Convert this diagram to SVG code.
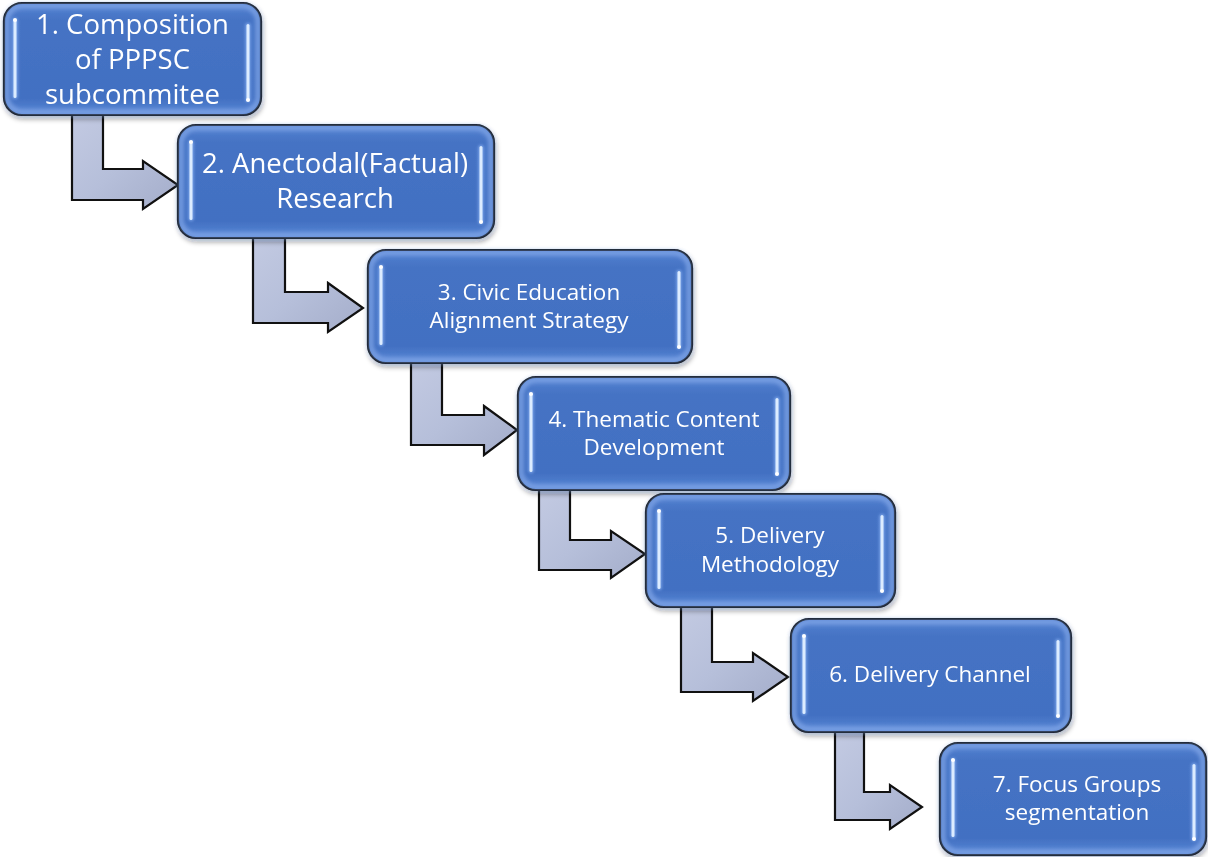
<svg xmlns="http://www.w3.org/2000/svg" width="1208" height="857" viewBox="0 0 1208 857">
<style>
.box{fill:url(#boxg);stroke:#000;stroke-width:2.2}
.glow{fill:none;stroke:#86aaea;stroke-width:5;opacity:0.8;filter:url(#blur2)}
.hlg{fill:#9cc2ff;opacity:0.7;filter:url(#hb)}
.hl{fill:#dcecff}
.dot{fill:#ffffff}
.arr{fill:url(#arrg);stroke:#111;stroke-width:2.2;stroke-linejoin:miter}
.t{fill:#fff;font-family:"Open Sans","Noto Sans",sans-serif;text-anchor:middle}
.big{font-size:27.5px}
.sm{font-size:22.5px}
</style>
<defs>
<linearGradient id="boxg" x1="0" y1="0" x2="0" y2="1">
<stop offset="0" stop-color="#5683d2"/>
<stop offset="0.15" stop-color="#4573c4"/>
<stop offset="0.85" stop-color="#4270c2"/>
<stop offset="1" stop-color="#5a88d6"/>
</linearGradient>
<linearGradient id="arrg" x1="0" y1="0" x2="1" y2="1">
<stop offset="0" stop-color="#c3cae2"/>
<stop offset="0.5" stop-color="#b6bfda"/>
<stop offset="1" stop-color="#a4adca"/>
</linearGradient>
<filter id="blur2" x="-10%" y="-10%" width="120%" height="120%"><feGaussianBlur stdDeviation="2"/></filter>
<filter id="hb" x="-300%" y="-20%" width="700%" height="140%"><feGaussianBlur stdDeviation="1.5"/></filter>
<filter id="shadow" x="-10%" y="-10%" width="125%" height="130%">
<feGaussianBlur in="SourceAlpha" stdDeviation="2.5"/>
<feOffset dx="1" dy="3" result="b"/>
<feComponentTransfer><feFuncA type="linear" slope="0.35"/></feComponentTransfer>
<feMerge><feMergeNode/><feMergeNode in="SourceGraphic"/></feMerge>
</filter>
</defs>
<rect width="1208" height="857" fill="#fff"/>

<g id="connectors">
<path class="arr" d="M72,112 L103,112 L103,169 L143,169 L143,161 L178,185 L143,209 L143,200 L72,200 Z"/>
<path class="arr" d="M253,236 L285,236 L285,292 L328,292 L328,283 L363,308 L328,332 L328,323 L253,323 Z"/>
<path class="arr" d="M411,361 L442,361 L442,415 L484,415 L484,406 L517,430 L484,455 L484,445 L411,445 Z"/>
<path class="arr" d="M539,488 L570,488 L570,540 L611,540 L611,531 L645,554 L611,578 L611,570 L539,570 Z"/>
<path class="arr" d="M681,605 L712,605 L712,662 L753,662 L753,653 L788,677 L753,701 L753,692 L681,692 Z"/>
<path class="arr" d="M835,731 L864,731 L864,792 L890,792 L890,785 L922,807 L890,829 L890,820 L835,820 Z"/>
</g>

<g id="node1" filter="url(#shadow)">
<rect class="box" x="4" y="3" width="257" height="112" rx="18"/>
<rect class="glow" x="7" y="6" width="251" height="106" rx="15"/>
<rect class="hlg" x="12.5" y="18" width="5" height="81" rx="2.5"/><rect class="hl" x="13.5" y="19" width="3" height="79" rx="1.5"/><circle class="dot" cx="15" cy="20" r="2"/>
<rect class="hlg" x="245.5" y="23" width="5" height="79" rx="2.5"/><rect class="hl" x="246.5" y="24" width="3" height="77" rx="1.5"/><circle class="dot" cx="248" cy="100" r="2"/>
<text class="t big" x="132.5" y="34">1. Composition</text>
<text class="t big" x="132.5" y="69">of PPPSC</text>
<text class="t big" x="132.5" y="104">subcommitee</text>
</g>

<g id="node2" filter="url(#shadow)">
<rect class="box" x="178" y="125" width="316" height="113" rx="18"/>
<rect class="glow" x="181" y="128" width="310" height="107" rx="15"/>
<rect class="hlg" x="188.5" y="140" width="5" height="81" rx="2.5"/><rect class="hl" x="189.5" y="141" width="3" height="79" rx="1.5"/><circle class="dot" cx="191" cy="142" r="2"/>
<rect class="hlg" x="478.5" y="145" width="5" height="79" rx="2.5"/><rect class="hl" x="479.5" y="146" width="3" height="77" rx="1.5"/><circle class="dot" cx="481" cy="222" r="2"/>
<text class="t big" x="335" y="173">2. Anectodal(Factual)</text>
<text class="t big" x="335" y="208">Research</text>
</g>

<g id="node3" filter="url(#shadow)">
<rect class="box" x="368" y="250" width="324" height="113" rx="18"/>
<rect class="glow" x="371" y="253" width="318" height="107" rx="15"/>
<rect class="hlg" x="378.5" y="265" width="5" height="81" rx="2.5"/><rect class="hl" x="379.5" y="266" width="3" height="79" rx="1.5"/><circle class="dot" cx="381" cy="267" r="2"/>
<rect class="hlg" x="676.5" y="270" width="5" height="79" rx="2.5"/><rect class="hl" x="677.5" y="271" width="3" height="77" rx="1.5"/><circle class="dot" cx="679" cy="347" r="2"/>
<text class="t sm" x="529" y="300">3. Civic Education</text>
<text class="t sm" x="529" y="328">Alignment Strategy</text>
</g>

<g id="node4" filter="url(#shadow)">
<rect class="box" x="518" y="377" width="272" height="113" rx="18"/>
<rect class="glow" x="521" y="380" width="266" height="107" rx="15"/>
<rect class="hlg" x="528.5" y="392" width="5" height="81" rx="2.5"/><rect class="hl" x="529.5" y="393" width="3" height="79" rx="1.5"/><circle class="dot" cx="531" cy="394" r="2"/>
<rect class="hlg" x="774.5" y="397" width="5" height="79" rx="2.5"/><rect class="hl" x="775.5" y="398" width="3" height="77" rx="1.5"/><circle class="dot" cx="777" cy="474" r="2"/>
<text class="t sm" x="654" y="427">4. Thematic Content</text>
<text class="t sm" x="654" y="455">Development</text>
</g>

<g id="node5" filter="url(#shadow)">
<rect class="box" x="646" y="494" width="249" height="113" rx="18"/>
<rect class="glow" x="649" y="497" width="243" height="107" rx="15"/>
<rect class="hlg" x="656.5" y="509" width="5" height="81" rx="2.5"/><rect class="hl" x="657.5" y="510" width="3" height="79" rx="1.5"/><circle class="dot" cx="659" cy="511" r="2"/>
<rect class="hlg" x="879.5" y="514" width="5" height="79" rx="2.5"/><rect class="hl" x="880.5" y="515" width="3" height="77" rx="1.5"/><circle class="dot" cx="882" cy="591" r="2"/>
<text class="t sm" x="770" y="543">5. Delivery</text>
<text class="t sm" x="770" y="572">Methodology</text>
</g>

<g id="node6" filter="url(#shadow)">
<rect class="box" x="791" y="619" width="280" height="113" rx="18"/>
<rect class="glow" x="794" y="622" width="274" height="107" rx="15"/>
<rect class="hlg" x="801.5" y="634" width="5" height="81" rx="2.5"/><rect class="hl" x="802.5" y="635" width="3" height="79" rx="1.5"/><circle class="dot" cx="804" cy="636" r="2"/>
<rect class="hlg" x="1055.5" y="639" width="5" height="79" rx="2.5"/><rect class="hl" x="1056.5" y="640" width="3" height="77" rx="1.5"/><circle class="dot" cx="1058" cy="716" r="2"/>
<text class="t sm" x="930" y="682">6. Delivery Channel</text>
</g>

<g id="node7" filter="url(#shadow)">
<rect class="box" x="940" y="743" width="266" height="112" rx="18"/>
<rect class="glow" x="943" y="746" width="260" height="106" rx="15"/>
<rect class="hlg" x="950.5" y="758" width="5" height="80" rx="2.5"/><rect class="hl" x="951.5" y="759" width="3" height="78" rx="1.5"/><circle class="dot" cx="953" cy="760" r="2"/>
<rect class="hlg" x="1191.5" y="763" width="5" height="78" rx="2.5"/><rect class="hl" x="1192.5" y="764" width="3" height="76" rx="1.5"/><circle class="dot" cx="1194" cy="839" r="2"/>
<text class="t sm" x="1077" y="792">7. Focus Groups</text>
<text class="t sm" x="1077" y="820">segmentation</text>
</g>
</svg>
